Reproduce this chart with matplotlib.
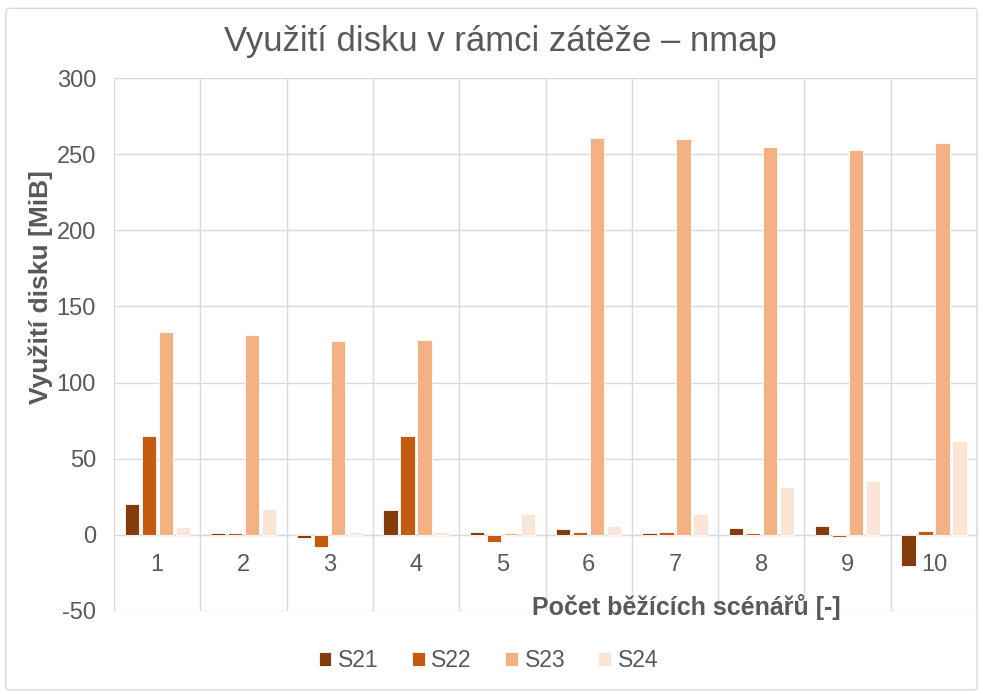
import numpy as np
import matplotlib.pyplot as plt
from matplotlib.patches import FancyBboxPatch

plt.rcParams['font.family'] = ['Liberation Sans', 'DejaVu Sans']
plt.rcParams['axes.unicode_minus'] = False

# Data: disk usage per number of running scenarios
categories = ['1', '2', '3', '4', '5', '6', '7', '8', '9', '10']
series_names = ['S21', 'S22', 'S23', 'S24']
s21 = [20, 1.3, -2, 16, 1.8, 3.7, 0.9, 4.6, 5.5, -20.5]
s22 = [65, 1, -8, 65, -4.4, 1.8, 1.8, 0.9, -1.7, 2.4]
s23 = [133, 131, 127, 128, 0.9, 260.5, 260, 255, 253, 257]
s24 = [5, 17, 2, 2, 13.8, 5.9, 13.8, 31.7, 35.4, 61.7]
colors = ['#843C0C', '#C55A11', '#F4B183', '#FBE5D6']

fig = plt.figure(figsize=(9.83, 6.94), dpi=100)
ax = fig.add_axes([0.116, 0.1196, 0.878, 0.768])

# outer chart frame
frame = FancyBboxPatch((0.006, 0.006), 0.988, 0.982, boxstyle='round,pad=0,rounding_size=0.004',
                       transform=fig.transFigure, facecolor='none', edgecolor='#D9D9D9', linewidth=1)
fig.patches.append(frame)

x = np.arange(1, len(categories) + 1)
width = 0.165
step = 0.197
for k, (vals, name) in enumerate(zip([s21, s22, s23, s24], series_names)):
    ax.bar(x + (k - 1.5) * step, vals, width, color=colors[k], edgecolor='white',
           linewidth=0.6, label=name, zorder=3)

ax.set_xlim(0.5, 10.5)
ax.set_ylim(-50, 300)
ax.set_yticks(np.arange(-50, 301, 50))

# horizontal gridlines and category separators
ax.grid(axis='y', color='#D9D9D9', linewidth=1, zorder=0)
for b in np.arange(0.5, 10.6, 1):
    ax.axvline(b, color='#D9D9D9', linewidth=1, zorder=0)

for s in ['top', 'right', 'left']:
    ax.spines[s].set_visible(False)
ax.spines['bottom'].set_position(('data', 0))
ax.spines['bottom'].set_color('#D9D9D9')

ax.set_xticks(x)
ax.set_xticklabels(categories)
ax.tick_params(axis='x', length=0, pad=14, labelsize=17, labelcolor='#595959')
ax.tick_params(axis='y', length=0, pad=13, labelsize=17, labelcolor='#595959')

fig.text(0.509, 0.94, 'Využití disku v rámci zátěže – nmap', ha='center', va='center',
         fontsize=25, color='#595959')
fig.text(0.041, 0.586, 'Využití disku [MiB]', rotation=90, ha='center', va='center',
         fontsize=19, fontweight='bold', color='#595959')
fig.text(0.698, 0.125, 'Počet běžících scénářů [-]', ha='center', va='center',
         fontsize=18, fontweight='bold', color='#595959')

leg = fig.legend(loc='center', bbox_to_anchor=(0.497, 0.048), ncol=4, frameon=False,
                 fontsize=16.5, handlelength=0.55, handleheight=0.55, handletextpad=0.3,
                 columnspacing=1.45)
for t in leg.get_texts():
    t.set_color('#595959')

fig.savefig('out.png', dpi=100)
